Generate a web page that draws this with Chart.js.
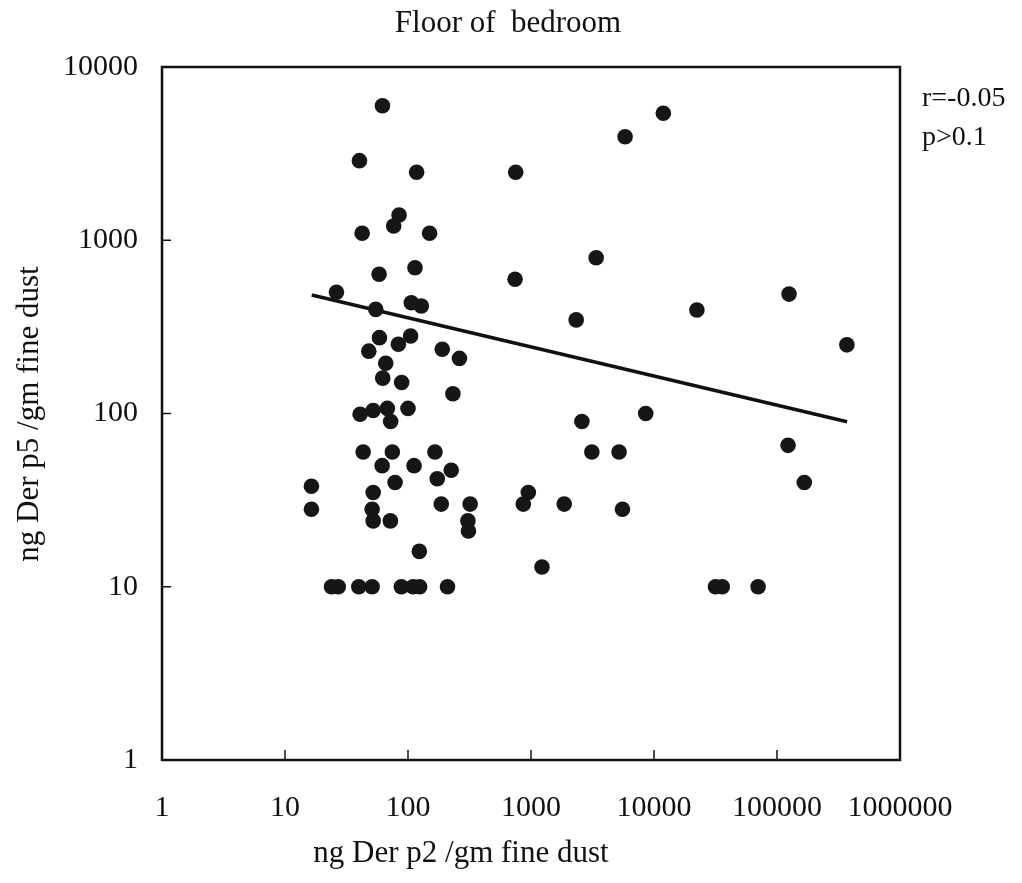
<!DOCTYPE html>
<html>
<head>
<meta charset="utf-8">
<script src="https://cdn.jsdelivr.net/npm/chart.js@4.4.1/dist/chart.umd.min.js"></script>
<style>
  html, body { margin: 0; padding: 0; background: #ffffff; }
  #wrap { width: 1022px; height: 883px; position: relative; }
  canvas { display: block; }
</style>
</head>
<body>
<div id="wrap"><canvas id="c" width="1022" height="883"></canvas></div>
<script>
// ---- Data ----
const titleText = 'Floor of  bedroom';
const xTitleText = 'ng Der p2 /gm fine dust';
const yTitleText = 'ng Der p5 /gm fine dust';
const statR = 'r=-0.05';
const statP = 'p>0.1';

const xTickValues = [1, 10, 100, 1000, 10000, 100000, 1000000];
const xTickLabels = ['1', '10', '100', '1000', '10000', '100000', '1000000'];
const yTickValues = [1, 10, 100, 1000, 10000];
const yTickLabels = ['1', '10', '100', '1000', '10000'];

// ng Der p2 /gm fine dust
const derP2 = [62, 40.3, 117.5, 84.6, 76.5, 42.4, 149.8, 58.2, 114, 26.2,
  54.7, 106.4, 128.3, 58.6, 48, 83.5, 105, 189.9, 262, 65.9,
  62.3, 88.8, 231.8, 40.8, 52.1, 68, 72.3, 100, 43.2, 74.6,
  165.6, 61.6, 112, 172.9, 224.6, 78.5, 16.4, 16.4, 52.1, 51.1,
  52.1, 71.9, 186.4, 320, 307, 310, 123.6, 23.9, 27.1, 39.8,
  51.1, 88.3, 109.9, 124.3, 209.6,
  11910, 5820, 751, 3386, 742, 125300, 22320, 2330, 369800, 2593,
  8563, 3124, 5200, 123000, 166700, 951, 866, 1862, 5543, 1228,
  31640, 35880, 70200];
// ng Der p5 /gm fine dust
const derP5 = [5980, 2880, 2467, 1400, 1208, 1097, 1097, 636, 694, 501,
  399, 436, 417, 274, 229, 251, 280, 235, 208, 195,
  160, 151, 130, 99, 104, 107, 90, 107, 60, 60,
  60, 50, 50, 42, 47, 40, 38, 28, 35, 28,
  24, 24, 30, 30, 24, 21, 16, 10, 10, 10,
  10, 10, 10, 10, 10,
  5404, 3960, 2467, 793, 595, 489, 396, 347, 249, 90,
  100, 60, 60, 65.5, 40, 35, 30, 30, 28, 13,
  10, 10, 10];

// regression line end points
const fitX = [16.5, 371500];
const fitY = [483, 89.7];

// ---- Chart ----
const FONT = "'Liberation Serif', 'Times New Roman', Times, serif";
const INK = '#111111';

const points = derP2.map((v, i) => ({ x: v, y: derP5[i] }));
const fitLine = fitX.map((v, i) => ({ x: v, y: fitY[i] }));

const deco = {
  id: 'deco',
  afterDraw(chart) {
    const { ctx, chartArea: a, scales } = chart;
    const xs = scales.x, ys = scales.y;
    ctx.save();
    ctx.strokeStyle = INK;
    ctx.lineWidth = 2.5;
    ctx.strokeRect(a.left, a.top, a.right - a.left, a.bottom - a.top);
    ctx.lineWidth = 1.5;
    xTickValues.slice(1, -1).forEach(v => {
      const px = xs.getPixelForValue(v);
      ctx.beginPath(); ctx.moveTo(px, a.bottom); ctx.lineTo(px, a.bottom - 10); ctx.stroke();
    });
    yTickValues.slice(1, -1).forEach(v => {
      const py = ys.getPixelForValue(v);
      ctx.beginPath(); ctx.moveTo(a.left, py); ctx.lineTo(a.left + 9, py); ctx.stroke();
    });
    ctx.fillStyle = INK;
    ctx.textBaseline = 'alphabetic';
    ctx.textAlign = 'center';
    ctx.font = '31px ' + FONT;
    ctx.fillText(titleText, 508, 32);
    ctx.font = '31px ' + FONT;
    ctx.fillText(xTitleText, 461, 862);
    ctx.save();
    ctx.translate(38, 414);
    ctx.rotate(-Math.PI / 2);
    ctx.fillText(yTitleText, 0, 0);
    ctx.restore();
    ctx.textAlign = 'left';
    ctx.font = '28px ' + FONT;
    ctx.fillText(statR, 922, 106);
    ctx.fillText(statP, 922, 145);
    ctx.restore();
  }
};

new Chart(document.getElementById('c'), {
  type: 'scatter',
  data: {
    datasets: [
      {
        label: 'samples',
        data: points,
        backgroundColor: '#161616',
        borderWidth: 0,
        pointRadius: 7.8,
        pointHoverRadius: 7.8
      },
      {
        type: 'line',
        label: 'fit',
        data: fitLine,
        borderColor: INK,
        borderWidth: 3.5,
        pointRadius: 0,
        fill: false,
        tension: 0
      }
    ]
  },
  options: {
    responsive: false,
    animation: false,
    devicePixelRatio: 1,
    layout: { padding: { left: 0, right: 122, top: 67, bottom: 0 } },
    plugins: { legend: { display: false }, tooltip: { enabled: false }, title: { display: false } },
    scales: {
      x: {
        type: 'logarithmic',
        position: 'bottom',
        min: 1,
        max: 1000000,
        afterBuildTicks: s => { s.ticks = xTickValues.map(v => ({ value: v })); },
        afterFit: s => { s.height = 123; },
        grid: { display: false, drawTicks: false },
        border: { display: false },
        ticks: {
          autoSkip: false,
          maxRotation: 0,
          padding: 30,
          color: INK,
          font: { family: FONT, size: 30 },
          callback: (v) => { const i = xTickValues.indexOf(v); return i >= 0 ? xTickLabels[i] : ''; }
        }
      },
      y: {
        type: 'logarithmic',
        position: 'left',
        min: 1,
        max: 10000,
        afterBuildTicks: s => { s.ticks = yTickValues.map(v => ({ value: v })); },
        afterFit: s => { s.width = 162; },
        grid: { display: false, drawTicks: false },
        border: { display: false },
        ticks: {
          autoSkip: false,
          padding: 24,
          color: INK,
          font: { family: FONT, size: 30 },
          callback: (v) => { const i = yTickValues.indexOf(v); return i >= 0 ? yTickLabels[i] : ''; }
        }
      }
    }
  },
  plugins: [deco]
});
</script>
</body>
</html>
